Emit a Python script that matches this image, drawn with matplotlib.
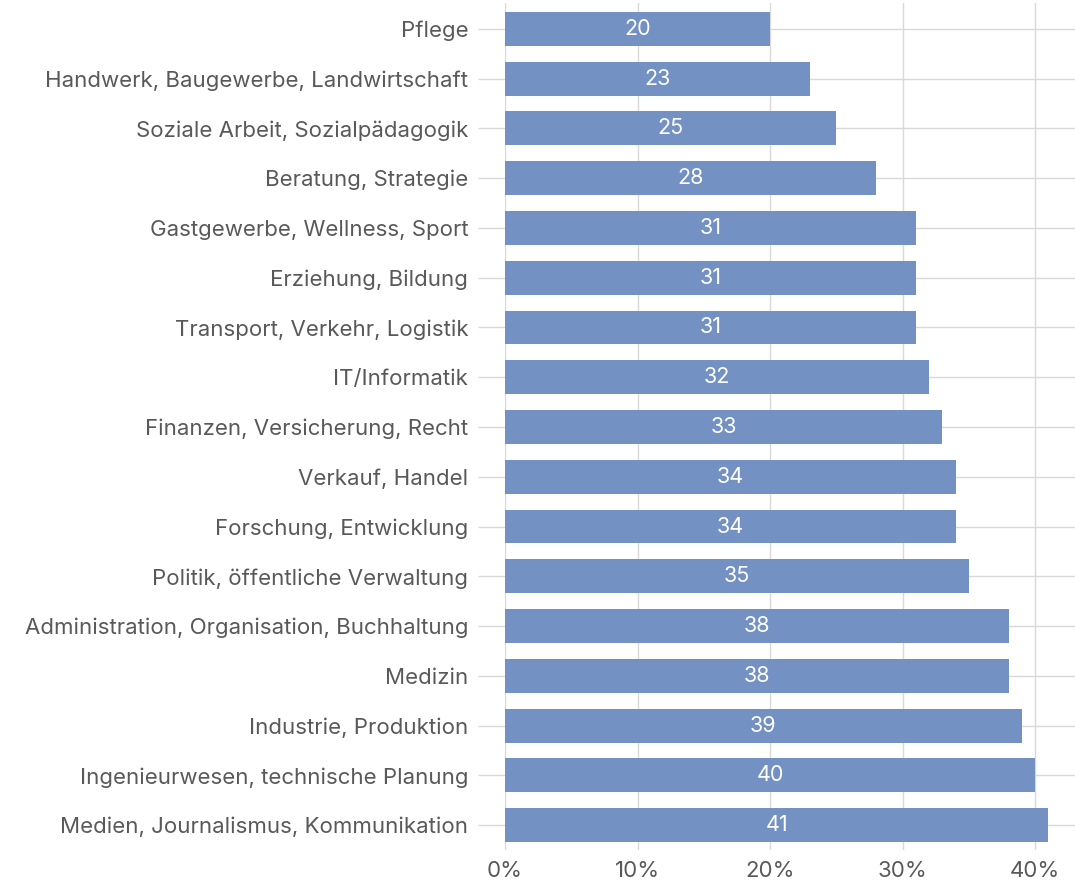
import matplotlib.pyplot as plt
from matplotlib.ticker import FuncFormatter

categories = [
    "Pflege",
    "Handwerk, Baugewerbe, Landwirtschaft",
    "Soziale Arbeit, Sozialpädagogik",
    "Beratung, Strategie",
    "Gastgewerbe, Wellness, Sport",
    "Erziehung, Bildung",
    "Transport, Verkehr, Logistik",
    "IT/Informatik",
    "Finanzen, Versicherung, Recht",
    "Verkauf, Handel",
    "Forschung, Entwicklung",
    "Politik, öffentliche Verwaltung",
    "Administration, Organisation, Buchhaltung",
    "Medizin",
    "Industrie, Produktion",
    "Ingenieurwesen, technische Planung",
    "Medien, Journalismus, Kommunikation",
]
values = [20, 23, 25, 28, 31, 31, 31, 32, 33, 34, 34, 35, 38, 38, 39, 40, 41]
x_ticks = [0, 10, 20, 30, 40]

plt.rcParams['font.family'] = ['Inter', 'DejaVu Sans']
text_col = "#595959"
grid_col = "#D9D9D9"
bar_col = "#7491C4"

fig = plt.figure(figsize=(10.75, 8.84), dpi=100)
ax = fig.add_axes([505 / 1075, 34 / 884, 570 / 1075, 847 / 884])

pos = list(range(len(categories)))
bars = ax.barh(pos, values, height=0.68, color=bar_col, zorder=3)
ax.bar_label(bars, labels=[str(v) for v in values], label_type="center",
             color="white", fontsize=15.5, zorder=4)

ax.set_yticks(pos)
ax.set_yticklabels(categories)
ax.set_ylim(len(categories) - 0.5, -0.52)
ax.set_xlim(0, 43)
ax.set_xticks(x_ticks)
ax.xaxis.set_major_formatter(FuncFormatter(lambda v, p: f"{v:.0f}%"))

ax.grid(True, axis="both", color=grid_col, linewidth=1, zorder=0)
for s in ax.spines.values():
    s.set_visible(False)
# tick marks in the same grey as the grid, ~27 px long
ax.tick_params(axis="y", length=19.4, color=grid_col, width=1, pad=7,
               labelsize=16, labelcolor=text_col)
ax.tick_params(axis="x", length=0, pad=8, labelsize=16, labelcolor=text_col)

fig.savefig("out.png", dpi=100)
